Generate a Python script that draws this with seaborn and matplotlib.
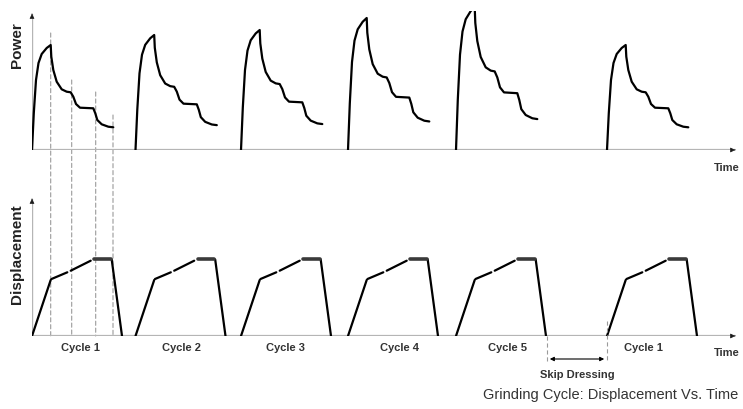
import numpy as np
import pandas as pd
import matplotlib
matplotlib.use("Agg")
import matplotlib.pyplot as plt
import seaborn as sns
from matplotlib.patches import ConnectionPatch

# --- données (unités ~ pixels) ---
cycle_names = ["Cycle 1", "Cycle 2", "Cycle 3", "Cycle 4", "Cycle 5", "Cycle 1"]
cycle_start = [0, 103.5, 209, 316, 424, 575]
cycle_peak = [105, 115, 120, 132, 143, 105]
label_x = [48, 150, 253, 368, 476, 611]

# profil de puissance du cycle 1 (temps relatif, hauteur)
power_t = [0, 1.8, 4, 6.5, 9.7, 14.7, 18.7, 19.3, 21.3, 24.7, 29.7, 34.7, 38.7,
           41.3, 44, 48, 61.3, 63.3, 65.3, 69.7, 76.3, 81.3]
power_h = [0, 37, 70, 87, 96, 102, 105, 93.3, 80, 68.3, 60.7, 58.3, 57.7,
           53.3, 46, 42.3, 41.7, 36.7, 30, 25.7, 23.3, 22.7]

# profil de déplacement : segments (nom, t, hauteur)
disp_seg = ["rise", "rise", "dash1", "dash1", "dash2", "dash2", "hold", "hold", "drop", "drop"]
disp_t = [0, 18.7, 19.5, 35.3, 38.7, 58.7, 62, 78.7, 79.7, 90]
disp_h = [0, 56, 57, 63.7, 65.3, 75.3, 77, 77, 76.5, 0]

# lignes pointillées du cycle 1 (temps, hauteur de départ sur la courbe puissance)
guide_t = [18.7, 39.7, 63.7, 81]
guide_h = [117, 70, 58, 35]

skip_from, skip_to = 515, 575

# --- construction des tables ---
rows = []
for i, (s, p) in enumerate(zip(cycle_start, cycle_peak)):
    for t, h in zip(power_t, power_h):
        rows.append({"cycle": i, "t": s + t, "power": h * p / 105})
power_df = pd.DataFrame(rows)

rows = []
for i, s in enumerate(cycle_start):
    for seg, t, h in zip(disp_seg, disp_t, disp_h):
        rows.append({"unit": f"{i}-{seg}", "seg": seg, "t": s + t, "disp": h})
disp_df = pd.DataFrame(rows)

sns.set_theme(style="white")
plt.rcParams["font.family"] = ["Liberation Sans", "DejaVu Sans"]
plt.rcParams["lines.scale_dashes"] = False

W, H = 743, 410
fig = plt.figure(figsize=(W / 100, H / 100), dpi=100)
ax1 = fig.add_axes([32 / W, (H - 151) / H, 706 / W, 139 / H])
ax2 = fig.add_axes([32 / W, (H - 337) / H, 706 / W, 140 / H])

for ax, top in [(ax1, 139), (ax2, 140)]:
    ax.set_xlim(0, 706)
    ax.set_ylim(0, top)
    ax.plot([0, 703], [0, 0], color="#b5b5b5", lw=1.6, zorder=1)
    ax.plot([0, 0], [0, top - 3], color="#b5b5b5", lw=1.0, zorder=1)
    ax.annotate("", xy=(706, 0), xytext=(700, 0),
                arrowprops=dict(arrowstyle="-|>", color="k", lw=0.5, mutation_scale=7))
    ax.annotate("", xy=(0, top), xytext=(0, top - 6),
                arrowprops=dict(arrowstyle="-|>", color="k", lw=0.5, mutation_scale=7))

# courbes de puissance
sns.lineplot(data=power_df, x="t", y="power", units="cycle", estimator=None,
             sort=False, color="black", lw=1.6, ax=ax1, legend=False)

# déplacement
solid = disp_df[disp_df["seg"].isin(["rise", "drop", "dash1", "dash2"])]
sns.lineplot(data=solid, x="t", y="disp", units="unit", estimator=None,
             sort=False, color="black", lw=1.6, ax=ax2, legend=False)
hold = disp_df[disp_df["seg"] == "hold"]
sns.lineplot(data=hold, x="t", y="disp", units="unit", estimator=None,
             sort=False, color="#3a3a3a", lw=2.6, ax=ax2, legend=False)
for ax in (ax1, ax2):
    ax.set_xlabel("")
    ax.set_ylabel("")
    ax.axis("off")

# pointillés verticaux entre les deux panneaux
for t, h in zip(guide_t, guide_h):
    con = ConnectionPatch(xyA=(t, h), coordsA=ax1.transData, xyB=(t, 0), coordsB=ax2.transData,
                          color="#9a9a9a", lw=0.8, linestyle=(0, (3, 2)), zorder=0)
    fig.add_artist(con)

# skip dressing
ax2.plot([skip_from, skip_from], [0, -26], color="#9a9a9a", lw=0.8,
         linestyle=(0, (3, 2)), clip_on=False)
ax2.plot([skip_to, skip_to], [15, -26], color="#9a9a9a", lw=0.8,
         linestyle=(0, (3, 2)), clip_on=False)
ax2.annotate("", xy=(skip_from, -23), xytext=(skip_to, -23), annotation_clip=False,
             arrowprops=dict(arrowstyle="<|-|>", color="black", lw=0.8, mutation_scale=6))
ax2.text((skip_from + skip_to) / 2, -38, "Skip Dressing", ha="center", va="center",
         fontsize=8, fontweight="bold", color="#333333", clip_on=False)

# étiquettes
for name, x in zip(cycle_names, label_x):
    ax2.text(x, -11, name, ha="center", va="center", fontsize=8,
             fontweight="bold", color="#333333", clip_on=False)
ax1.text(695, -17, "Time", ha="center", va="center", fontsize=8,
         fontweight="bold", color="#333333", clip_on=False)
ax2.text(695, -16, "Time", ha="center", va="center", fontsize=8,
         fontweight="bold", color="#333333", clip_on=False)

fig.text(17 / W, 1 - 45 / H, "Power", rotation=90, ha="center", va="center",
         fontsize=11, fontweight="bold", color="#222222")
fig.text(17 / W, 1 - 254 / H, "Displacement", rotation=90, ha="center", va="center",
         fontsize=11, fontweight="bold", color="#222222")
fig.text(738 / W, 1 - 395 / H, "Grinding Cycle: Displacement Vs. Time", ha="right",
         va="center", fontsize=10.5, color="#333333")

fig.savefig("out.png", dpi=100)
